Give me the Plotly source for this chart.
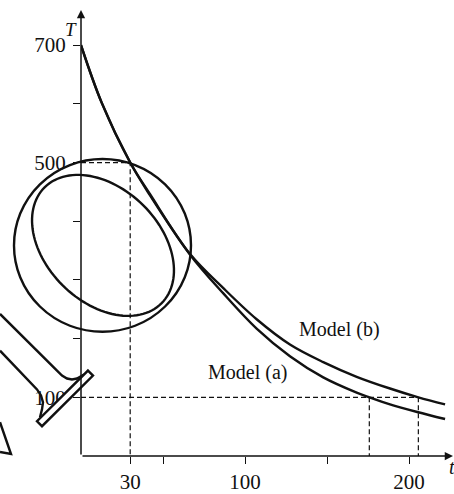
import numpy as np
import plotly.graph_objects as go

# Cooling curves: temperature T against time t for two models
t_a = [0, 12.6, 30, 42.1, 66.5, 86.8, 107.1, 127.4, 147.7, 168.1, 175.8, 188.4, 205, 222]
T_a = [700, 602, 500, 444, 343, 277, 217, 170, 134, 108, 100, 88, 75, 63]

t_b = [0, 12.6, 30, 42.1, 66.5, 86.8, 107.1, 127.4, 147.7, 168.1, 188.4, 205.7, 222]
T_b = [700, 602, 500, 446, 344, 286, 233, 190, 160, 135, 115, 100, 88]

# Reference readings marked with dashed guides
t_mark = 30
T_mark = 500
T_level = 100
t_a_level = 175.8
t_b_level = 205.7

x_ticks = [30, 50, 100, 150, 200]
x_ticktext = ["30", "", "100", "", "200"]
y_ticks = [100, 200, 300, 400, 500, 600, 700]
y_ticktext = ["100", "", "", "", "500", "", "700"]

W, H = 454, 494
ML, MB = 81, 35
PW, PH = W - ML, H - MB
X_MAX = PW / 1.64
Y_MAX = PH / 0.5908

INK = "#111111"
SERIF = "Liberation Serif"


def px(x):
    return (x - ML) / PW


def py(y):
    return (PH - y) / PH


fig = go.Figure()

dash_style = dict(color=INK, width=1.2, dash="5px,3px")
# dashed guides
fig.add_trace(go.Scatter(x=[0, t_mark, t_mark], y=[T_mark, T_mark, 0], mode="lines",
                         line=dash_style, hoverinfo="skip"))
fig.add_trace(go.Scatter(x=[0, t_b_level], y=[T_level, T_level], mode="lines",
                         line=dash_style, hoverinfo="skip"))
fig.add_trace(go.Scatter(x=[t_a_level, t_a_level], y=[T_level, 0], mode="lines",
                         line=dash_style, hoverinfo="skip"))
fig.add_trace(go.Scatter(x=[t_b_level, t_b_level], y=[T_level, 0], mode="lines",
                         line=dash_style, hoverinfo="skip"))

# model curves
fig.add_trace(go.Scatter(x=t_a, y=T_a, mode="lines", name="Model (a)",
                         line=dict(color=INK, width=2.4, shape="spline", smoothing=1.0)))
fig.add_trace(go.Scatter(x=t_b, y=T_b, mode="lines", name="Model (b)",
                         line=dict(color=INK, width=2.4, shape="spline", smoothing=1.0)))

shapes = []
lens_line = dict(color=INK, width=2.4)
# magnifier: outer rim
shapes.append(dict(type="circle", xref="paper", yref="paper",
                   x0=px(14), x1=px(191), y0=py(334), y1=py(160), line=lens_line))
# magnifier: tilted inner ellipse
cx, cy, a, b, th = 103, 247, 82.6, 57.0, np.deg2rad(45)
phi = np.linspace(0, 2 * np.pi, 121)
ex = cx + a * np.cos(phi) * np.cos(th) - b * np.sin(phi) * np.sin(th)
ey = cy + a * np.cos(phi) * np.sin(th) + b * np.sin(phi) * np.cos(th)
path = "M " + " L ".join(f"{px(x):.5f},{py(y):.5f}" for x, y in zip(ex, ey)) + " Z"
shapes.append(dict(type="path", xref="paper", yref="paper", path=path, line=lens_line))


def poly(points, close=False):
    s = "M " + " L ".join(f"{px(x):.5f},{py(y):.5f}" for x, y in points)
    return s + (" Z" if close else "")


# magnifier handle
shapes.append(dict(type="path", xref="paper", yref="paper", line=lens_line,
                   path=poly([(0, 316), (57, 373), (62, 378), (67, 381), (72, 382),
                              (77, 381), (84, 377)])))
shapes.append(dict(type="path", xref="paper", yref="paper", line=lens_line,
                   path=poly([(0, 353), (37, 392), (41, 398), (43, 405), (42, 412),
                              (40, 420)])))
shapes.append(dict(type="path", xref="paper", yref="paper", line=lens_line,
                   fillcolor="white",
                   path=poly([(88, 373), (93, 378), (42, 429), (37, 424)], close=True)))
shapes.append(dict(type="path", xref="paper", yref="paper", line=lens_line,
                   path=poly([(0, 425), (11, 457), (0, 455)])))

annotations = [
    # axes with arrowheads
    dict(x=0, y=(PH - 10) * Y_MAX / PH, ax=0, ay=0, xref="x", yref="y", axref="x", ayref="y",
         showarrow=True, arrowhead=2, arrowsize=1.1, arrowwidth=1.5, arrowcolor=INK, text=""),
    dict(x=(453 - ML) * X_MAX / PW, y=0, ax=0, ay=0, xref="x", yref="y", axref="x", ayref="y",
         showarrow=True, arrowhead=2, arrowsize=1.1, arrowwidth=1.5, arrowcolor=INK, text=""),
    dict(x=px(63), y=py(17), xref="paper", yref="paper", text="<i>T</i>", showarrow=False,
         font=dict(family=SERIF, size=19, color=INK)),
    dict(x=px(447), y=py(483), xref="paper", yref="paper", text="<i>t</i>", showarrow=False,
         xanchor="left", font=dict(family=SERIF, size=20, color=INK)),
    dict(x=157.5, y=215, text="Model (b)", showarrow=False,
         font=dict(family=SERIF, size=20, color=INK)),
    dict(x=101.5, y=142, text="Model (a)", showarrow=False,
         font=dict(family=SERIF, size=20, color=INK)),
]

fig.update_layout(
    width=W, height=H,
    margin=dict(l=ML, r=0, t=0, b=MB),
    paper_bgcolor="white", plot_bgcolor="white",
    showlegend=False,
    shapes=shapes,
    annotations=annotations,
    xaxis=dict(range=[0, X_MAX], showgrid=False, zeroline=False, showline=False,
               ticks="outside", ticklen=7, tickwidth=1.3, tickcolor=INK,
               tickvals=x_ticks, ticktext=x_ticktext,
               tickfont=dict(family=SERIF, size=21, color=INK)),
    yaxis=dict(range=[0, Y_MAX], showgrid=False, zeroline=False, showline=False,
               ticks="outside", ticklen=7, tickwidth=1.3, tickcolor=INK,
               tickvals=y_ticks, ticktext=y_ticktext, ticklabelstandoff=3,
               tickfont=dict(family=SERIF, size=21, color=INK)),
)

fig.write_html("out.html")
